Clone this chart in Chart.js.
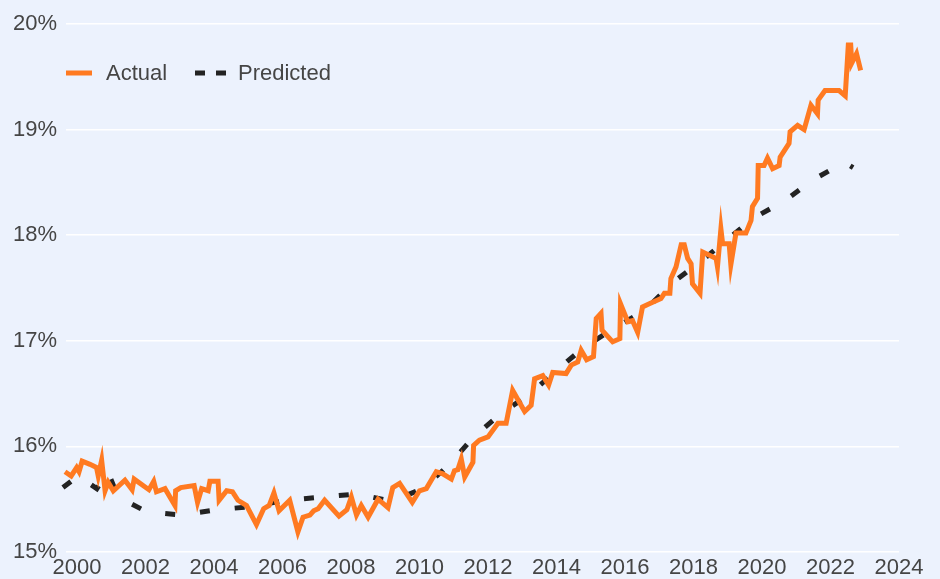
<!DOCTYPE html>
<html>
<head>
<meta charset="utf-8">
<script src="https://cdn.jsdelivr.net/npm/chart.js@4"></script>
<style>
  html, body { margin: 0; padding: 0; background: #ECF2FD; }
  #wrap { width: 940px; height: 579px; }
</style>
</head>
<body>
<div id="wrap"><canvas id="shareChart"></canvas></div>
<script>
// actual vs predicted share (%)

const actualYears = [1999.65, 1999.83, 1999.99, 2000.06, 2000.15, 2000.38, 2000.57, 2000.62, 2000.72, 2000.82,
  2000.91, 2001.06, 2001.40, 2001.61, 2001.67, 2002.10, 2002.24, 2002.32, 2002.57, 2002.86,
  2002.88, 2003.03, 2003.42, 2003.52, 2003.64, 2003.83, 2003.88, 2004.12, 2004.15, 2004.37,
  2004.54, 2004.70, 2004.95, 2005.24, 2005.45, 2005.61, 2005.75, 2005.90, 2006.21, 2006.45,
  2006.60, 2006.80, 2006.91, 2007.04, 2007.23, 2007.65, 2007.88, 2008.01, 2008.16, 2008.30,
  2008.50, 2008.79, 2009.08, 2009.22, 2009.42, 2009.79, 2010.00, 2010.20, 2010.49, 2010.68,
  2010.93, 2011.02, 2011.12, 2011.22, 2011.32, 2011.56, 2011.58, 2011.75, 2012.00, 2012.29,
  2012.53, 2012.72, 2013.07, 2013.26, 2013.36, 2013.60, 2013.77, 2013.89, 2014.28, 2014.43,
  2014.62, 2014.72, 2014.88, 2015.08, 2015.16, 2015.30, 2015.33, 2015.64, 2015.85, 2015.87,
  2016.08, 2016.22, 2016.37, 2016.51, 2016.71, 2017.05, 2017.15, 2017.31, 2017.34, 2017.49,
  2017.64, 2017.73, 2017.83, 2017.93, 2017.97, 2018.19, 2018.27, 2018.66, 2018.70, 2018.80,
  2018.85, 2019.04, 2019.09, 2019.24, 2019.53, 2019.68, 2019.72, 2019.87, 2019.89, 2020.06,
  2020.16, 2020.31, 2020.50, 2020.53, 2020.79, 2020.82, 2021.04, 2021.23, 2021.43, 2021.62,
  2021.64, 2021.84, 2022.25, 2022.43, 2022.52, 2022.59, 2022.62, 2022.76, 2022.88];

const actualValues = [15.76, 15.72, 15.80, 15.76, 15.86, 15.83, 15.80, 15.72, 15.87, 15.58,
  15.66, 15.58, 15.68, 15.59, 15.69, 15.59, 15.67, 15.57, 15.60, 15.44,
  15.58, 15.61, 15.63, 15.47, 15.60, 15.58, 15.67, 15.67, 15.49, 15.58,
  15.57, 15.49, 15.44, 15.26, 15.41, 15.44, 15.56, 15.39, 15.49, 15.19,
  15.33, 15.35, 15.39, 15.41, 15.49, 15.34, 15.40, 15.52, 15.35, 15.44,
  15.33, 15.50, 15.42, 15.61, 15.65, 15.47, 15.58, 15.60, 15.76, 15.74,
  15.69, 15.77, 15.78, 15.88, 15.71, 15.85, 16.01, 16.06, 16.09, 16.22,
  16.22, 16.53, 16.33, 16.39, 16.64, 16.67, 16.58, 16.70, 16.69, 16.77,
  16.80, 16.91, 16.82, 16.85, 17.21, 17.26, 17.10, 16.99, 17.02, 17.35,
  17.18, 17.19, 17.08, 17.32, 17.35, 17.40, 17.45, 17.45, 17.59, 17.70,
  17.91, 17.91, 17.78, 17.73, 17.54, 17.45, 17.84, 17.78, 17.70, 18.06,
  17.92, 17.92, 17.72, 18.02, 18.02, 18.14, 18.27, 18.35, 18.66, 18.66,
  18.73, 18.63, 18.66, 18.74, 18.87, 18.98, 19.04, 19.00, 19.23, 19.15,
  19.28, 19.37, 19.37, 19.32, 19.80, 19.80, 19.63, 19.72, 19.56];

const predictedYears = [1999.59, 2000.03, 2000.58, 2000.90, 2001.20, 2002.04, 2003.06, 2004.08, 2005.10, 2006.12,
  2007.15, 2008.17, 2009.19, 2010.09, 2010.88, 2011.55, 2012.37, 2013.21, 2014.00, 2014.81,
  2015.69, 2016.59, 2017.35, 2018.17, 2018.96, 2019.74, 2020.68, 2021.52, 2022.40, 2022.66];

const predictedValues = [15.61, 15.72, 15.60, 15.76, 15.52, 15.38, 15.35, 15.40, 15.43, 15.49,
  15.52, 15.55, 15.48, 15.60, 15.83, 16.08, 16.31, 16.49, 16.72, 16.94,
  17.12, 17.29, 17.54, 17.74, 17.95, 18.16, 18.33, 18.53, 18.69, 18.64];

const yearTicks = [2000, 2002, 2004, 2006, 2008, 2010, 2012, 2014, 2016, 2018, 2020, 2022, 2024];
const percentTicks = [15, 16, 17, 18, 19, 20];

const seriesNames = ['Actual', 'Predicted'];

const FONT = '"Liberation Sans", Arial, sans-serif';
const TEXT_COLOR = '#454545';

const toPoints = (xs, ys) => xs.map((x, i) => ({ x: x, y: ys[i] }));

// legend drawn inside the plot, top left
const insideLegend = {
  id: 'insideLegend',
  afterDraw(chart) {
    const ctx = chart.ctx;
    const sets = chart.data.datasets;
    const y = 73;
    const items = [
      { x0: 66, x1: 92, tx: 106, dash: [] },
      { x0: 195, x1: 227, tx: 238, dash: [10, 11] }
    ];
    ctx.save();
    ctx.font = '22px ' + FONT;
    ctx.textBaseline = 'middle';
    items.forEach((it, i) => {
      ctx.beginPath();
      ctx.lineWidth = 5;
      ctx.lineCap = 'butt';
      ctx.strokeStyle = sets[i].borderColor;
      ctx.setLineDash(it.dash);
      ctx.moveTo(it.x0, y);
      ctx.lineTo(it.x1, y);
      ctx.stroke();
      ctx.setLineDash([]);
      ctx.fillStyle = TEXT_COLOR;
      ctx.fillText(sets[i].label, it.tx, y + 1);
    });
    ctx.restore();
  }
};

const chartEl = document.getElementById('shareChart');
const shareChart = new Chart(chartEl, {
  type: 'line',
  data: {
    datasets: [{
      label: seriesNames[0],
      data: toPoints(actualYears, actualValues),
      borderColor: '#FF7A21',
      borderWidth: 5,
      pointRadius: 0,
      tension: 0,
      clip: 8
    }, {
      label: seriesNames[1],
      data: toPoints(predictedYears, predictedValues),
      borderColor: '#232323',
      borderWidth: 5,
      borderDash: [10, 25],
      pointRadius: 0,
      tension: 0,
      clip: 8
    }]
  },
  options: {
    responsive: true,
    maintainAspectRatio: false,
    animation: false,
    layout: {
      // tick padding counts twice in the axis size, hence the odd numbers
      padding: { left: 4, right: 41, top: 24, bottom: -4 }
    },
    scales: {
      x: {
        type: 'linear',
        min: 1999.68,
        max: 2024,
        afterBuildTicks: axis => { axis.ticks = yearTicks.map(v => ({ value: v })); },
        afterFit: axis => { axis.paddingLeft = 0; axis.paddingRight = 0; },
        grid: { display: false, drawTicks: false },
        border: { display: false },
        ticks: {
          padding: 4.5,
          maxRotation: 0,
          color: TEXT_COLOR,
          font: { family: FONT, size: 22, lineHeight: 1.0 },
          callback: v => String(v)
        }
      },
      y: {
        min: 15,
        max: 20,
        afterBuildTicks: axis => { axis.ticks = percentTicks.map(v => ({ value: v })); },
        grid: { color: '#FFFFFF', lineWidth: 1.5, drawTicks: false },
        border: { display: false },
        ticks: {
          padding: 9,
          color: TEXT_COLOR,
          font: { family: FONT, size: 22 },
          callback: v => v + '%'
        }
      }
    },
    plugins: {
      legend: { display: false },
      tooltip: { enabled: false }
    }
  },
  plugins: [insideLegend]
});
</script>
</body>
</html>
